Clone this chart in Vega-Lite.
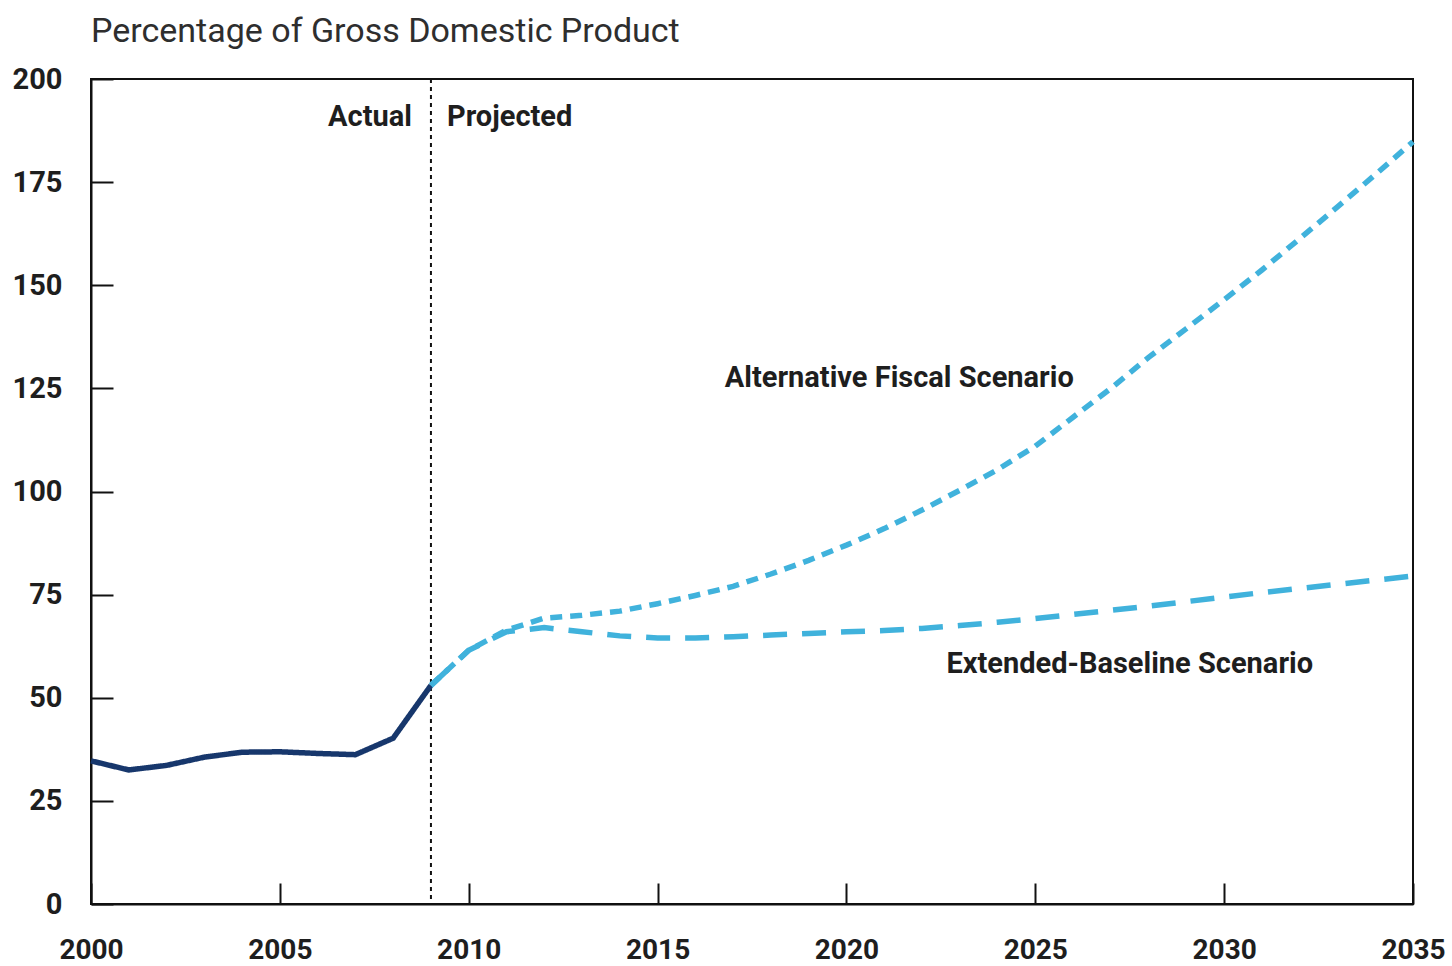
{
  "$schema": "https://vega.github.io/schema/vega-lite/v6.json",
  "width": 1322,
  "height": 825,
  "autosize": "none",
  "padding": {"left": 91, "top": 79, "right": 39, "bottom": 62},
  "background": "white",
  "config": {
    "view": {"stroke": "#111111", "strokeWidth": 2},
    "font": "Roboto"
  },
  "title": {
    "text": "Percentage of Gross Domestic Product",
    "anchor": "start",
    "frame": "group",
    "font": "Roboto",
    "fontSize": 34,
    "fontWeight": "normal",
    "color": "#2e2e2e",
    "baseline": "alphabetic",
    "offset": -11
  },
  "datasets": {
    "debt": [
      {"year": 2000, "value": 34.7, "series": "Actual"},
      {"year": 2001, "value": 32.5, "series": "Actual"},
      {"year": 2002, "value": 33.6, "series": "Actual"},
      {"year": 2003, "value": 35.6, "series": "Actual"},
      {"year": 2004, "value": 36.8, "series": "Actual"},
      {"year": 2005, "value": 36.9, "series": "Actual"},
      {"year": 2006, "value": 36.5, "series": "Actual"},
      {"year": 2007, "value": 36.2, "series": "Actual"},
      {"year": 2008, "value": 40.2, "series": "Actual"},
      {"year": 2009, "value": 53.0, "series": "Actual"},
      {"year": 2009, "value": 53.0, "series": "Baseline"},
      {"year": 2010, "value": 61.5, "series": "Baseline"},
      {"year": 2011, "value": 66.0, "series": "Baseline"},
      {"year": 2012, "value": 67.0, "series": "Baseline"},
      {"year": 2013, "value": 66.0, "series": "Baseline"},
      {"year": 2014, "value": 65.0, "series": "Baseline"},
      {"year": 2015, "value": 64.5, "series": "Baseline"},
      {"year": 2016, "value": 64.5, "series": "Baseline"},
      {"year": 2017, "value": 64.8, "series": "Baseline"},
      {"year": 2018, "value": 65.2, "series": "Baseline"},
      {"year": 2019, "value": 65.6, "series": "Baseline"},
      {"year": 2020, "value": 66.0, "series": "Baseline"},
      {"year": 2021, "value": 66.3, "series": "Baseline"},
      {"year": 2022, "value": 66.8, "series": "Baseline"},
      {"year": 2023, "value": 67.5, "series": "Baseline"},
      {"year": 2024, "value": 68.3, "series": "Baseline"},
      {"year": 2025, "value": 69.2, "series": "Baseline"},
      {"year": 2026, "value": 70.2, "series": "Baseline"},
      {"year": 2027, "value": 71.2, "series": "Baseline"},
      {"year": 2028, "value": 72.2, "series": "Baseline"},
      {"year": 2029, "value": 73.3, "series": "Baseline"},
      {"year": 2030, "value": 74.4, "series": "Baseline"},
      {"year": 2031, "value": 75.5, "series": "Baseline"},
      {"year": 2032, "value": 76.5, "series": "Baseline"},
      {"year": 2033, "value": 77.5, "series": "Baseline"},
      {"year": 2034, "value": 78.5, "series": "Baseline"},
      {"year": 2035, "value": 79.5, "series": "Baseline"},
      {"year": 2009, "value": 53.0, "series": "Alternative"},
      {"year": 2010, "value": 61.5, "series": "Alternative"},
      {"year": 2011, "value": 66.4, "series": "Alternative"},
      {"year": 2012, "value": 69.3, "series": "Alternative"},
      {"year": 2013, "value": 70.0, "series": "Alternative"},
      {"year": 2014, "value": 71.0, "series": "Alternative"},
      {"year": 2015, "value": 72.8, "series": "Alternative"},
      {"year": 2016, "value": 74.8, "series": "Alternative"},
      {"year": 2017, "value": 77.0, "series": "Alternative"},
      {"year": 2018, "value": 80.0, "series": "Alternative"},
      {"year": 2019, "value": 83.3, "series": "Alternative"},
      {"year": 2020, "value": 87.0, "series": "Alternative"},
      {"year": 2021, "value": 91.0, "series": "Alternative"},
      {"year": 2022, "value": 95.5, "series": "Alternative"},
      {"year": 2023, "value": 100.3, "series": "Alternative"},
      {"year": 2024, "value": 105.3, "series": "Alternative"},
      {"year": 2025, "value": 111.0, "series": "Alternative"},
      {"year": 2026, "value": 118.0, "series": "Alternative"},
      {"year": 2027, "value": 125.0, "series": "Alternative"},
      {"year": 2028, "value": 132.5, "series": "Alternative"},
      {"year": 2029, "value": 139.5, "series": "Alternative"},
      {"year": 2030, "value": 146.5, "series": "Alternative"},
      {"year": 2031, "value": 153.7, "series": "Alternative"},
      {"year": 2032, "value": 161.3, "series": "Alternative"},
      {"year": 2033, "value": 169.0, "series": "Alternative"},
      {"year": 2034, "value": 176.8, "series": "Alternative"},
      {"year": 2035, "value": 184.8, "series": "Alternative"}
    ],
    "divider": [{"year": 2009}],
    "labels": [
      {"year": 2009, "value": 190.8, "label": "Actual", "side": "left"},
      {"year": 2009, "value": 190.8, "label": "Projected", "side": "right"},
      {"year": 2021.4, "value": 127.5, "label": "Alternative Fiscal Scenario", "side": "center"},
      {"year": 2027.5, "value": 58.2, "label": "Extended-Baseline Scenario", "side": "center"}
    ]
  },
  "encoding": {
    "x": {
      "field": "year",
      "type": "quantitative",
      "scale": {"domain": [2000, 2035], "nice": false, "zero": false},
      "axis": {
        "title": null,
        "values": [2000, 2005, 2010, 2015, 2020, 2025, 2030, 2035],
        "format": "d",
        "grid": false,
        "domainColor": "#111111",
        "domainWidth": 2,
        "tickColor": "#111111",
        "tickWidth": 2,
        "tickSize": -21,
        "labelFont": "Roboto",
        "labelFontSize": 28,
        "labelFontWeight": "bold",
        "labelColor": "#1e1e1e",
        "labelPadding": 53,
        "labelBaseline": "top",
        "labelFlush": false,
        "labelOverlap": false
      }
    },
    "y": {
      "field": "value",
      "type": "quantitative",
      "scale": {"domain": [0, 200], "nice": false},
      "axis": {
        "title": null,
        "values": [0, 25, 50, 75, 100, 125, 150, 175, 200],
        "grid": false,
        "domainColor": "#111111",
        "domainWidth": 2,
        "tickColor": "#111111",
        "tickWidth": 2,
        "tickSize": -22,
        "labelFont": "Roboto",
        "labelFontSize": 29,
        "labelFontWeight": "bold",
        "labelColor": "#1e1e1e",
        "labelPadding": 51,
        "labelFlush": false,
        "labelOverlap": false
      }
    }
  },
  "layer": [
    {
      "data": {"name": "divider"},
      "mark": {"type": "rule", "color": "#111111", "strokeWidth": 2, "strokeDash": [4, 4]},
      "encoding": {"y": {"value": 0}, "y2": {"value": 825}}
    },
    {
      "data": {"name": "debt"},
      "mark": {"type": "line", "strokeWidth": 5.5},
      "encoding": {
        "detail": {"field": "series"},
        "color": {
          "field": "series",
          "type": "nominal",
          "scale": {"domain": ["Actual", "Baseline", "Alternative"], "range": ["#17376c", "#40b2dc", "#40b2dc"]},
          "legend": null
        },
        "strokeDash": {
          "field": "series",
          "type": "nominal",
          "scale": {"domain": ["Actual", "Baseline", "Alternative"], "range": [[1, 0], [24, 15], [12, 8]]},
          "legend": null
        },
        "order": {"field": "year", "type": "quantitative"}
      }
    },
    {
      "data": {"name": "labels"},
      "transform": [{"filter": "datum.side === 'left'"}],
      "mark": {"type": "text", "align": "right", "baseline": "middle", "dx": -19, "font": "Roboto", "fontSize": 29, "fontWeight": "bold", "color": "#1e1e1e"},
      "encoding": {"text": {"field": "label"}}
    },
    {
      "data": {"name": "labels"},
      "transform": [{"filter": "datum.side === 'right'"}],
      "mark": {"type": "text", "align": "left", "baseline": "middle", "dx": 16, "font": "Roboto", "fontSize": 29, "fontWeight": "bold", "color": "#1e1e1e"},
      "encoding": {"text": {"field": "label"}}
    },
    {
      "data": {"name": "labels"},
      "transform": [{"filter": "datum.side === 'center'"}],
      "mark": {"type": "text", "align": "center", "baseline": "middle", "font": "Roboto", "fontSize": 29, "fontWeight": "bold", "color": "#1e1e1e"},
      "encoding": {"text": {"field": "label"}}
    }
  ]
}
